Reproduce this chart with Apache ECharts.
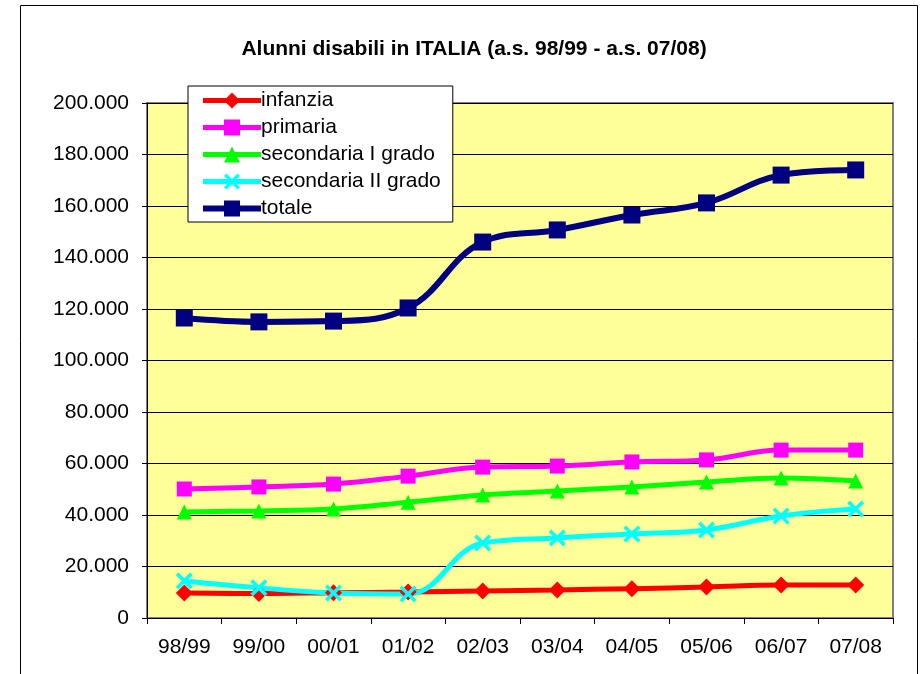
<!DOCTYPE html>
<html>
<head>
<meta charset="utf-8">
<script src="https://cdn.jsdelivr.net/npm/echarts@6/dist/echarts.min.js"></script>
<style>
html,body{margin:0;padding:0;background:#fff;}
#c{width:921px;height:674px;}
</style>
</head>
<body>
<div id="c"></div>
<script>
const categories = ['98/99','99/00','00/01','01/02','02/03','03/04','04/05','05/06','06/07','07/08'];
const infanzia = [9700, 9500, 9800, 10100, 10500, 10900, 11400, 12000, 12800, 12800];
const primaria = [50100, 50900, 52000, 55100, 58600, 59000, 60600, 61400, 65200, 65200];
const secondariaI = [41200, 41600, 42300, 45000, 47800, 49300, 50900, 52800, 54400, 53200];
const secondariaII = [14400, 11700, 9700, 9300, 29100, 31100, 32600, 34200, 39600, 42300];
const totale = [116500, 115000, 115300, 120400, 146000, 150700, 156500, 161200, 172000, 174000];
const seriesNames = ['infanzia','primaria','secondaria I grado','secondaria II grado','totale'];
const yTicks = {min: 0, max: 200000, interval: 20000};

const font = 'Liberation Sans, Arial, sans-serif';
const xPath = 'path://M0,1.5 L1.5,0 L5,3.5 L8.5,0 L10,1.5 L6.5,5 L10,8.5 L8.5,10 L5,6.5 L1.5,10 L0,8.5 L3.5,5 Z';
const colors = ['#FF0000','#FF00FF','#00FF00','#00FFFF','#000080'];
const widths = [5, 5, 5, 5, 6];

function fmt(v){ return String(v).replace(/\B(?=(\d{3})+(?!\d))/g, '.'); }

function mk(i, data, symbol, size){
  return {
    name: seriesNames[i], type: 'line', data: data, smooth: 0.4,
    symbol: symbol, symbolSize: size,
    lineStyle: {color: colors[i], width: widths[i]},
    itemStyle: {color: colors[i], borderWidth: 0},
    emphasis: {disabled: true},
    animation: false, z: 3
  };
}

const chart = echarts.init(document.getElementById('c'), null, {renderer: 'canvas'});
chart.setOption({
  animation: false,
  backgroundColor: '#ffffff',
  title: {
    text: 'Alunni disabili in ITALIA (a.s. 98/99 - a.s. 07/08)',
    left: 469, top: 34, textAlign: 'center',
    textStyle: {fontFamily: font, fontWeight: 'bold', fontSize: 21, color: '#000'}
  },
  graphic: [{
    type: 'rect', shape: {x: 20.5, y: 5.5, width: 897, height: 700},
    style: {fill: 'none', stroke: '#000', lineWidth: 1}, z: -1, silent: true
  }],
  legend: {
    orient: 'vertical', left: 188, top: 86,
    padding: [4, 12, 3, 12],
    backgroundColor: '#fff', borderColor: '#000', borderWidth: 1,
    itemWidth: 58, itemHeight: 20, itemGap: 6,
    textStyle: {fontFamily: font, fontSize: 21, color: '#000', padding: [0,0,0,-5]},
    data: seriesNames.map((n, i) => ({name: n, lineStyle: {width: widths[i]}}))
  },
  grid: {
    left: 147, top: 103, right: 28, bottom: 56,
    show: true, backgroundColor: '#FFFF99', borderColor: '#808080', borderWidth: 2
  },
  xAxis: {
    type: 'category', data: categories, boundaryGap: true,
    axisLine: {lineStyle: {color: '#000', width: 1}},
    axisTick: {show: true, alignWithLabel: false, length: 6, lineStyle: {color: '#000'}},
    axisLabel: {fontFamily: font, fontSize: 21, color: '#000', margin: 19, interval: 0}
  },
  yAxis: {
    type: 'value', min: yTicks.min, max: yTicks.max, interval: yTicks.interval,
    axisLine: {show: true, lineStyle: {color: '#000', width: 1}},
    axisTick: {show: true, length: 5, lineStyle: {color: '#000'}},
    axisLabel: {fontFamily: font, fontSize: 21, color: '#000', margin: 18, formatter: fmt},
    splitLine: {show: true, lineStyle: {color: '#000', width: 1}}
  },
  series: [
    mk(0, infanzia, 'diamond', 17),
    mk(1, primaria, 'rect', 15),
    mk(2, secondariaI, 'triangle', 15),
    mk(3, secondariaII, xPath, 17),
    mk(4, totale, 'rect', 17)
  ]
});
</script>
</body>
</html>
